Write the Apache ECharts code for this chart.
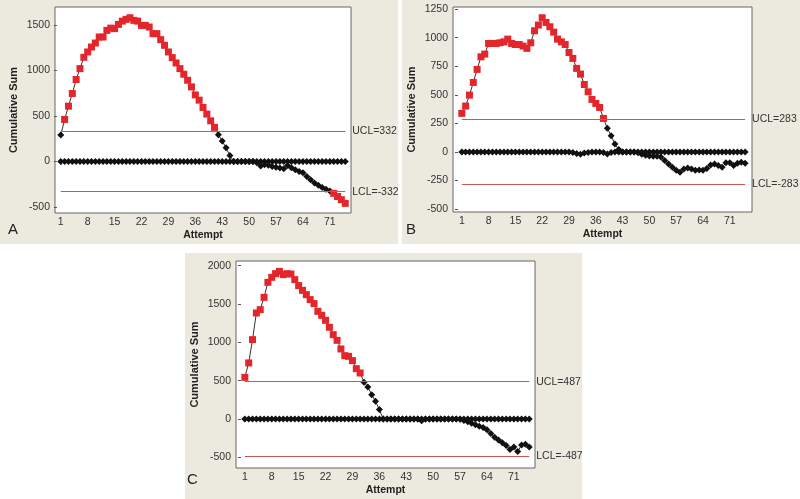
<!DOCTYPE html>
<html><head><meta charset="utf-8">
<script src="https://cdn.jsdelivr.net/npm/echarts@6/dist/echarts.min.js"></script>
<style>html,body{margin:0;padding:0;background:#fff}#c{width:800px;height:499px}</style>
</head><body><div id="c"></div>
<script>
// ---- data ----
const attempts = [1,2,3,4,5,6,7,8,9,10,11,12,13,14,15,16,17,18,19,20,21,22,23,24,25,26,27,28,29,30,31,32,33,34,35,36,37,38,39,40,41,42,43,44,45,46,47,48,49,50,51,52,53,54,55,56,57,58,59,60,61,62,63,64,65,66,67,68,69,70,71,72,73,74,75];
const xTickLabels = [1,8,15,22,29,36,43,50,57,64,71];

const upperA = [290,462,608,747,901,1021,1145,1204,1258,1302,1368,1368,1441,1466,1460,1507,1543,1562,1580,1551,1543,1496,1496,1478,1405,1405,1339,1277,1204,1142,1083,1021,959,893,820,732,674,594,521,447,375,295,225,150,65,0,0,0,0,0,0,0,0,0,0,0,0,0,0,0,0,0,0,0,0,0,0,0,0,0,0,0,0,0,0];
const lowerA = [0,0,0,0,0,0,0,0,0,0,0,0,0,0,0,0,0,0,0,0,0,0,0,0,0,0,0,0,0,0,0,0,0,0,0,0,0,0,0,0,0,0,0,0,0,0,0,0,0,0,0,-15,-50,-35,-40,-55,-62,-72,-80,-45,-70,-90,-110,-125,-165,-200,-235,-262,-285,-305,-325,-350,-385,-420,-460];
const limitA = 332;
const yTicksA = [-500,0,500,1000,1500];

const upperB = [337,401,497,608,722,832,856,949,949,949,955,963,987,949,940,940,926,906,955,1060,1110,1174,1133,1095,1048,987,963,940,870,818,731,681,590,526,459,424,389,293,206,142,68,20,0,0,0,0,0,0,0,0,0,0,0,0,0,0,0,0,0,0,0,0,0,0,0,0,0,0,0,0,0,0,0,0,0];
const lowerB = [0,0,0,0,0,0,0,0,0,0,0,0,0,0,0,0,0,0,0,0,0,0,0,0,0,0,0,0,0,-5,-15,-20,-10,-5,0,0,0,-5,-18,-5,0,0,0,0,0,0,-8,-20,-30,-35,-38,-38,-45,-75,-105,-135,-160,-178,-150,-140,-150,-160,-158,-160,-145,-115,-105,-120,-135,-95,-95,-120,-100,-90,-100];
const limitB = 283;
const yTicksB = [-500,-250,0,250,500,750,1000,1250];

const upperC = [543,731,1035,1383,1426,1587,1783,1848,1896,1926,1883,1896,1890,1818,1740,1678,1622,1557,1505,1404,1352,1287,1196,1100,1026,913,826,817,761,656,600,480,418,317,230,122,0,0,0,0,0,0,0,0,0,0,0,0,0,0,0,0,0,0,0,0,0,0,0,0,0,0,0,0,0,0,0,0,0,0,0,0,0,0,0];
const lowerC = [0,0,0,0,0,0,0,0,0,0,0,0,0,0,0,0,0,0,0,0,0,0,0,0,0,0,0,0,0,0,0,0,0,0,0,0,0,0,0,0,0,0,0,0,0,0,-25,0,0,0,0,0,0,0,0,0,-5,-20,-35,-55,-75,-95,-110,-140,-190,-240,-275,-310,-345,-400,-365,-425,-340,-330,-365];
const limitC = 487;
const yTicksC = [-500,0,500,1000,1500,2000];

const panelLetters = ['A','B','C'];

// ---- styles ----
const RED = '#e3262b', BLACK = '#111', LIMIT = '#c85858', BEIGE = '#ece9df';
const FONT = 'Liberation Sans';
const plain = v => String(v);

const panels = [
  {up: upperA, lo: lowerA, lim: limitA, yt: yTicksA, grid:{left:55, top:7, width:296, height:206}, xr:[-0.5,76.5], yr:[-566,1698]},
  {up: upperB, lo: lowerB, lim: limitB, yt: yTicksB, grid:{left:453, top:7, width:299, height:205}, xr:[-1.3,76.8], yr:[-526,1268]},
  {up: upperC, lo: lowerC, lim: limitC, yt: yTicksC, grid:{left:236, top:261, width:299, height:207}, xr:[-1.3,76.5], yr:[-640,2061]}
];

const grids = [], xAxes = [], yAxes = [], series = [];
panels.forEach((p, k) => {
  grids.push(Object.assign({show:true, backgroundColor:'#fff', borderColor:'#666', borderWidth:1}, p.grid));
  xAxes.push({
    type:'value', gridIndex:k, min:p.xr[0], max:p.xr[1],
    name:'Attempt', nameLocation:'middle', nameGap:17,
    nameTextStyle:{fontFamily:FONT, fontWeight:'bold', fontSize:10.5, color:'#222'},
    axisLine:{show:false}, splitLine:{show:false},
    axisTick:{show:true, length:3, customValues:xTickLabels, lineStyle:{color:'#555'}},
    axisLabel:{customValues:xTickLabels, formatter:plain, margin:4, fontFamily:FONT, fontSize:10.5, color:'#333'}
  });
  yAxes.push({
    type:'value', gridIndex:k, min:p.yr[0], max:p.yr[1],
    name:'Cumulative Sum', nameLocation:'middle', nameGap:36,
    nameTextStyle:{fontFamily:FONT, fontWeight:'bold', fontSize:11, color:'#222'},
    axisLine:{show:false}, splitLine:{show:false},
    axisTick:{show:true, length:3, customValues:p.yt, lineStyle:{color:'#555'}},
    axisLabel:{customValues:p.yt, formatter:plain, margin:5, fontFamily:FONT, fontSize:10.5, color:'#333'}
  });
  const mk = (vals, isUp) => ({
    type:'line', xAxisIndex:k, yAxisIndex:k, animation:false, silent:true,
    lineStyle:{color:'#333', width:1},
    z: isUp ? 3 : 2,
    data: vals.map((v, i) => {
      const out = isUp ? v > p.lim : v < -p.lim;
      return {value:[attempts[i], v], symbol: out ? 'rect' : 'diamond',
              symbolSize: out ? 7 : 7, itemStyle:{color: out ? RED : BLACK}};
    }),
    markLine: isUp ? {
      silent:true, symbol:['none','none'], animation:false,
      lineStyle:{color:LIMIT, width:1, type:'solid'},
      label:{position:'end', distance:7, fontFamily:FONT, fontSize:10.5, color:'#333'},
      data:[
        [{coord:[attempts[0], p.lim], label:{formatter:'UCL=' + p.lim}}, {coord:[attempts[attempts.length-1], p.lim]}],
        [{coord:[attempts[0], 0], lineStyle:{opacity:0}, label:{formatter:'0'}}, {coord:[attempts[attempts.length-1], 0]}],
        [{coord:[attempts[0], -p.lim], label:{formatter:'LCL=-' + p.lim}}, {coord:[attempts[attempts.length-1], -p.lim]}]
      ]
    } : undefined
  });
  series.push(mk(p.lo, false), mk(p.up, true));
});

const chart = echarts.init(document.getElementById('c'), null, {renderer:'canvas'});
chart.setOption({
  animation:false,
  backgroundColor:'#fff',
  graphic:[
    {type:'rect', z:-10, shape:{x:0, y:0, width:398, height:244}, style:{fill:BEIGE}},
    {type:'rect', z:-10, shape:{x:402, y:0, width:398, height:244}, style:{fill:BEIGE}},
    {type:'rect', z:-10, shape:{x:185, y:253, width:397, height:246}, style:{fill:BEIGE}},
    {type:'text', x:8, y:222, style:{text:panelLetters[0], font:'15px ' + FONT, fill:'#222'}},
    {type:'text', x:406, y:222, style:{text:panelLetters[1], font:'15px ' + FONT, fill:'#222'}},
    {type:'text', x:187, y:472, style:{text:panelLetters[2], font:'15px ' + FONT, fill:'#222'}}
  ],
  grid:grids, xAxis:xAxes, yAxis:yAxes, series:series
});
</script></body></html>
